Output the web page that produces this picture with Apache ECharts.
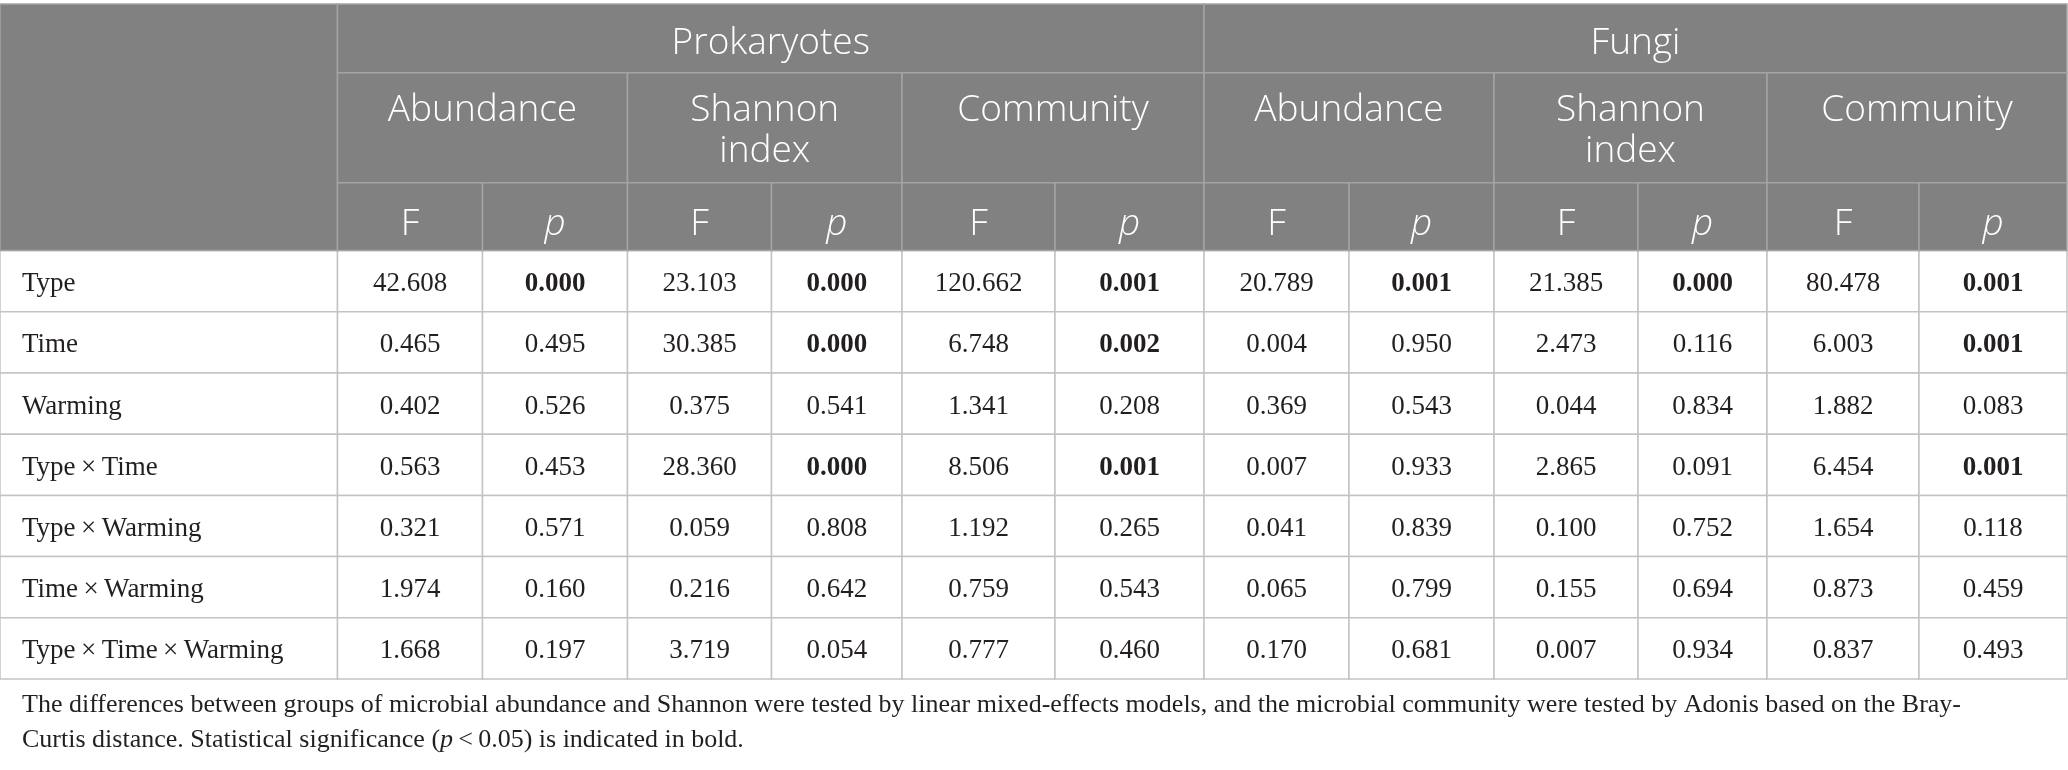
<!DOCTYPE html>
<html>
<head>
<meta charset="utf-8">
<script src="https://cdn.jsdelivr.net/npm/echarts@6/dist/echarts.min.js"></script>
<style>
html, body { margin: 0; padding: 0; background: #fff; }
#chart { width: 2068px; height: 770px; }
</style>
</head>
<body>
<div id="chart"></div>
<script>
// table data
const rowLabels = ['Type', 'Time', 'Warming', 'Type\u2009×\u2009Time', 'Type\u2009×\u2009Warming', 'Time\u2009×\u2009Warming', 'Type\u2009×\u2009Time\u2009×\u2009Warming'];
const groups = ['Prokaryotes', 'Fungi'];
const measures = ['Abundance', 'Shannon\nindex', 'Community'];
const stats = ['F', 'p'];

const prokAbundanceF = [42.608, 0.465, 0.402, 0.563, 0.321, 1.974, 1.668];
const prokAbundanceP = [0.000, 0.495, 0.526, 0.453, 0.571, 0.160, 0.197];
const prokShannonF = [23.103, 30.385, 0.375, 28.360, 0.059, 0.216, 3.719];
const prokShannonP = [0.000, 0.000, 0.541, 0.000, 0.808, 0.642, 0.054];
const prokCommunityF = [120.662, 6.748, 1.341, 8.506, 1.192, 0.759, 0.777];
const prokCommunityP = [0.001, 0.002, 0.208, 0.001, 0.265, 0.543, 0.460];
const fungiAbundanceF = [20.789, 0.004, 0.369, 0.007, 0.041, 0.065, 0.170];
const fungiAbundanceP = [0.001, 0.950, 0.543, 0.933, 0.839, 0.799, 0.681];
const fungiShannonF = [21.385, 2.473, 0.044, 2.865, 0.100, 0.155, 0.007];
const fungiShannonP = [0.000, 0.116, 0.834, 0.091, 0.752, 0.694, 0.934];
const fungiCommunityF = [80.478, 6.003, 1.882, 6.454, 1.654, 0.873, 0.837];
const fungiCommunityP = [0.001, 0.001, 0.083, 0.001, 0.118, 0.459, 0.493];

const footnote1 = 'The differences between groups of microbial abundance and Shannon were tested by linear mixed-effects models, and the microbial community were tested by Adonis based on the Bray-';
const footnote2 = 'Curtis distance. Statistical significance ({i|p}\u2009<\u20090.05) is indicated in bold.';

const valueColumns = [
  prokAbundanceF, prokAbundanceP, prokShannonF, prokShannonP, prokCommunityF, prokCommunityP,
  fungiAbundanceF, fungiAbundanceP, fungiShannonF, fungiShannonP, fungiCommunityF, fungiCommunityP
];

// layout (pixels of the 2068x770 canvas)
const colEdges = [0, 337.5, 482.5, 627.5, 771.5, 902, 1055, 1204, 1349, 1494, 1638, 1767, 1919, 2067];
const headEdges = [4, 72.7, 182.7, 250.6];
const rowH = 61.2;
const headFill = '#808180';
const headLine = '#a3a4a3';
const bodyLine = '#c3c3c3';
const textColor = '#231f20';
const sansFont = '"Open Sans", "Noto Sans", sans-serif';
const serifFont = '"Liberation Serif", "DejaVu Serif", serif';

// header cells: [colStart, colEnd, headRowStart, headRowEnd, text, kind]
const headCells = [[0, 1, 0, 3, '', 'blank']];
groups.forEach((g, gi) => {
  headCells.push([1 + gi * 6, 7 + gi * 6, 0, 1, g, 'group']);
  measures.forEach((m, mi) => {
    const c = 1 + gi * 6 + mi * 2;
    headCells.push([c, c + 2, 1, 2, m, 'measure']);
    stats.forEach((s, si) => headCells.push([c + si, c + si + 1, 2, 3, s, 'stat']));
  });
});

// body cells: [col, row, text, bold]
const bodyCells = [];
rowLabels.forEach((lab, r) => {
  bodyCells.push([0, r, lab, 0]);
  valueColumns.forEach((col, ci) => {
    const isP = ci % 2 === 1;
    bodyCells.push([ci + 1, r, col[r].toFixed(3), isP && col[r] < 0.05 ? 1 : 0]);
  });
});

const chart = echarts.init(document.getElementById('chart'));

function cellRect(api, x0, x1, y0, y1) {
  const a = api.coord([x0, y0]);
  const b = api.coord([x1, y1]);
  return { x: a[0], y: a[1], width: b[0] - a[0], height: b[1] - a[1] };
}

const option = {
  animation: false,
  grid: { left: 0, right: 0, top: 0, bottom: 0 },
  xAxis: { type: 'value', min: 0, max: 2068, show: false },
  yAxis: { type: 'value', min: 0, max: 770, inverse: true, show: false },
  series: [
    {
      type: 'custom',
      coordinateSystem: 'cartesian2d',
      data: headCells,
      renderItem: (params, api) => {
        const d = headCells[params.dataIndex];
        const r = cellRect(api, colEdges[d[0]], colEdges[d[1]], headEdges[d[2]], headEdges[d[3]]);
        const children = [{
          type: 'rect', shape: r,
          style: { fill: headFill, stroke: headLine, lineWidth: 1.5 }
        }];
        if (d[4]) {
          const top = d[5] === 'measure';
          const dy = d[5] === 'group' ? 5 : 7.5;
          children.push({
            type: 'text',
            x: r.x + r.width / 2,
            y: top ? r.y + 17 : r.y + r.height / 2 + dy,
            style: {
              text: d[4], fill: '#ffffff',
              font: (d[4] === 'p' ? 'italic ' : '') + '300 37px ' + sansFont,
              lineHeight: 41,
              align: 'center', verticalAlign: top ? 'top' : 'middle',
              textAlign: 'center', textVerticalAlign: top ? 'top' : 'middle'
            }
          });
        }
        return { type: 'group', children };
      },
      z: 2
    },
    {
      type: 'custom',
      coordinateSystem: 'cartesian2d',
      data: bodyCells.map(d => [d[0], d[1]]),
      renderItem: (params, api) => {
        const d = bodyCells[params.dataIndex];
        const y0 = headEdges[3] + d[1] * rowH;
        const r = cellRect(api, colEdges[d[0]], colEdges[d[0] + 1], y0, y0 + rowH);
        const isLabel = d[0] === 0;
        return {
          type: 'group',
          children: [
            { type: 'rect', shape: r, style: { fill: '#fff', stroke: bodyLine, lineWidth: 1.5 } },
            {
              type: 'text',
              x: isLabel ? r.x + 22 : r.x + r.width / 2,
              y: r.y + r.height / 2 + 3,
              style: {
                text: d[2], fill: textColor,
                font: (d[3] ? 'bold ' : '') + '27px ' + serifFont,
                align: isLabel ? 'left' : 'center', verticalAlign: 'middle',
                textAlign: isLabel ? 'left' : 'center', textVerticalAlign: 'middle'
              }
            }
          ]
        };
      },
      z: 1
    }
  ],
  graphic: [
    {
      type: 'text', left: 22, top: 692,
      style: { text: footnote1, fill: textColor, font: '26px ' + serifFont }
    },
    {
      type: 'text', left: 22, top: 727,
      style: {
        text: footnote2, fill: textColor, font: '26px ' + serifFont,
        rich: { i: { fontStyle: 'italic', fontSize: 26, fontFamily: serifFont, fill: textColor } }
      }
    }
  ]
};

chart.setOption(option);
</script>
</body>
</html>
